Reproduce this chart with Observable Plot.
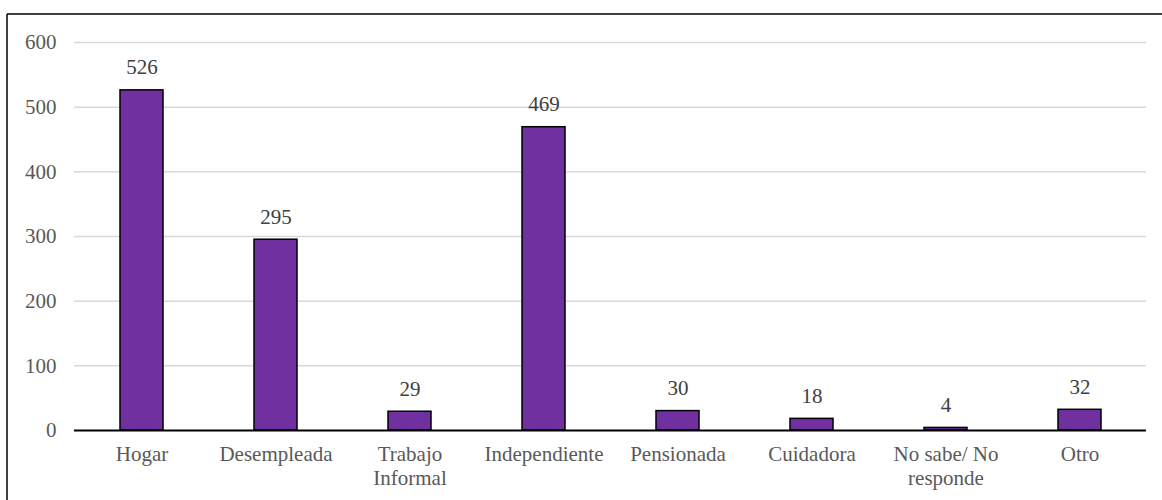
<!DOCTYPE html>
<html>
<head>
<meta charset="utf-8">
<script src="https://cdn.jsdelivr.net/npm/d3@7"></script>
<script src="https://cdn.jsdelivr.net/npm/@observablehq/plot@0.6"></script>
<style>
  html, body { margin: 0; padding: 0; background: #fff; }
  #chart { width: 1162px; height: 500px; }
</style>
</head>
<body>
<div id="chart"></div>
<script>
const categories = ["Hogar", "Desempleada", "Trabajo Informal", "Independiente", "Pensionada", "Cuidadora", "No sabe/ No responde", "Otro"];
const values = [526, 295, 29, 469, 30, 18, 4, 32];
const tickLabels = ["Hogar", "Desempleada", "Trabajo\nInformal", "Independiente", "Pensionada", "Cuidadora", "No sabe/ No\nresponde", "Otro"];
const yTicks = [0, 100, 200, 300, 400, 500, 600];

const data = categories.map((c, i) => ({category: c, value: values[i], label: tickLabels[i]}));
const labelMap = new Map(categories.map((c, i) => [c, tickLabels[i]]));

const font = "'Liberation Serif', 'Times New Roman', serif";

const chart = Plot.plot({
  width: 1162,
  height: 500,
  marginLeft: 74,
  marginRight: 16,
  marginTop: 42,
  marginBottom: 70,
  style: {fontFamily: font, fontSize: "21px", background: "#fff"},
  x: {domain: categories, paddingInner: 0.68, paddingOuter: 0.34, label: null},
  y: {domain: [0, 600], label: null},
  marks: [
    Plot.ruleY(yTicks.filter(d => d > 0), {stroke: "#d9d9d9", strokeWidth: 1.5}),
    Plot.axisY({ticks: yTicks, tickSize: 0, tickPadding: 18, fill: "#595959", fontSize: 21, label: null}),
    Plot.axisX({tickSize: 0, tickPadding: 13, fill: "#595959", fontSize: 21, label: null, lineHeight: 1.15, tickFormat: d => labelMap.get(d)}),
    Plot.barY(data, {x: "category", y: "value", fill: "#7030A0", stroke: "#000", strokeWidth: 1.5}),
    Plot.ruleY([0], {stroke: "#000", strokeWidth: 2}),
    Plot.text(data, {x: "category", y: "value", text: d => String(d.value), dy: -16, lineAnchor: "bottom", fill: "#404040", fontSize: 21})
  ]
});

document.getElementById("chart").appendChild(chart);

// chart border (left and top edges of the frame)
const svg = d3.select(chart);
svg.append("line").attr("x1", 7).attr("x2", 1162).attr("y1", 14).attr("y2", 14).attr("stroke", "#000").attr("stroke-width", 1.5);
svg.append("line").attr("x1", 7).attr("x2", 7).attr("y1", 14).attr("y2", 500).attr("stroke", "#000").attr("stroke-width", 1.5);
</script>
</body>
</html>
